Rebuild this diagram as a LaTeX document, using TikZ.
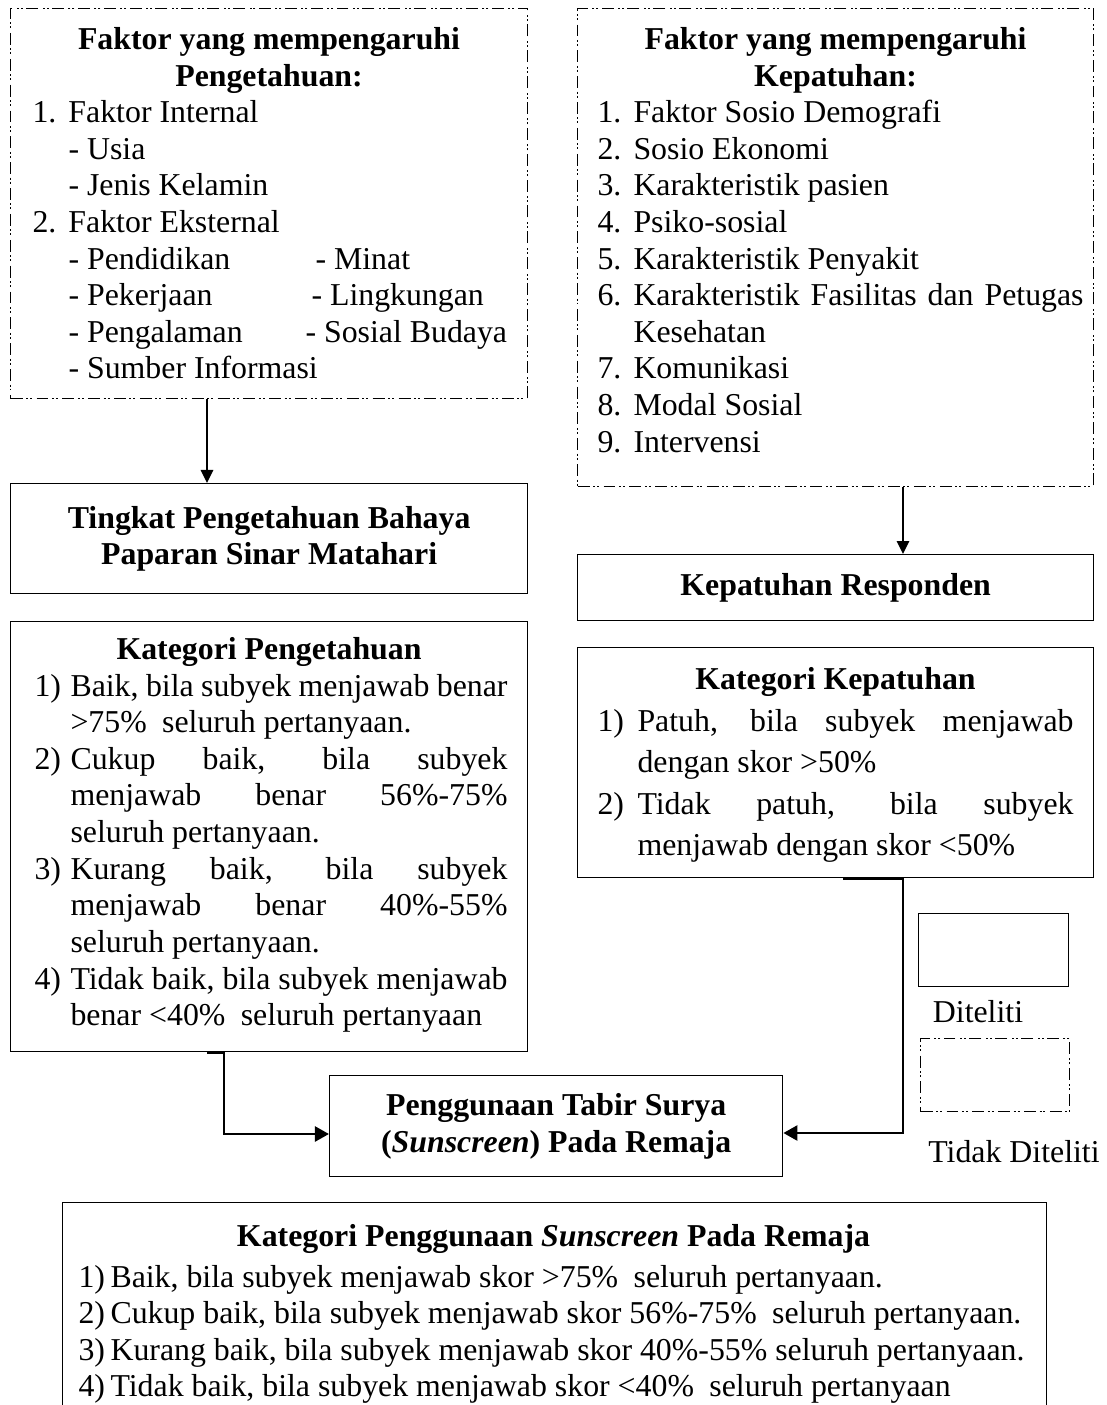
\documentclass[tikz,border=0pt]{standalone}
\usepackage{fontspec}
\setmainfont{Liberation Serif}
\usetikzlibrary{arrows.meta}
\newlength\px
\setlength\px{0.377pt}
\newcommand\nsp{\spaceskip=0pt\xspaceskip=0pt\relax}
\newcommand\lab[2]{\makebox[#1\px][l]{\nsp #2}}
\newcommand\jline[2]{\makebox[#1\px][s]{\spaceskip=0.25em plus 0.5em minus 0.05em\relax #2}}
\newcommand\ind[1]{\hspace*{#1\px}}
\newcommand\wsp{\hspace{2.8pt}}
\newcommand\fs{\fontsize{12pt}{13.8pt}\selectfont}
\setlength\parindent{0pt}
\tikzset{
  box/.style={draw, line width=0.5pt, rectangle, inner sep=0pt, anchor=north west},
  dbox/.style={box, dash pattern=on 4.5pt off 1.3pt on 0.75pt off 0.75pt on 0.75pt off 1.7pt},
  txt/.style={inner sep=0pt, anchor=north west, text width=700\px},
  sarrow/.style={line width=0.6pt, -{Triangle[length=4.9pt,width=4.7pt]}},
  elbow/.style={line width=1.1pt, -{Triangle[length=5.3pt,width=5.6pt]}},
}
\begin{document}
\begin{tikzpicture}[x=0.377pt,y=-0.377pt, every node/.append style={font=\fs}]
\fill[white] (0,0) rectangle (1106,1405);
\useasboundingbox (0,0) rectangle (1106,1405);

% ---------- left column ----------
\node[dbox, minimum width=517\px, minimum height=390\px] (fp) at (10,8) {};
\node[txt] (fpt) at (32,23.4) {\nsp
\makebox[473\px][c]{\nsp\textbf{Faktor yang mempengaruhi}}\strut\\
\makebox[473\px][c]{\textbf{Pengetahuan:}}\\
\lab{36}{1.}Faktor Internal\\
\ind{36}- Usia\\
\ind{36}- Jenis Kelamin\\
\lab{36}{2.}Faktor Eksternal\\
\ind{36}\lab{247}{- Pendidikan}- Minat\\
\ind{36}\lab{243}{- Pekerjaan}- Lingkungan\\
\ind{36}\lab{237}{- Pengalaman}- Sosial Budaya\\
\ind{36}- Sumber Informasi};

\node[box, minimum height=110\px, text width=517\px] (tp) at (10,483)
  {\nsp\centering\textbf{Tingkat Pengetahuan Bahaya}\\\textbf{Paparan Sinar Matahari}\par};

\node[box, minimum width=517\px, minimum height=430\px] (kp) at (10,621) {};
\node[txt] (kpt) at (30,633.4) {\nsp
\makebox[477\px][c]{\nsp\textbf{Kategori Pengetahuan}}\strut\\
\ind{4}\lab{36}{1)}\jline{437}{Baik, bila subyek menjawab benar}\\
\ind{40}>75\%\wsp{} seluruh pertanyaan.\\
\ind{4}\lab{36}{2)}\jline{437}{Cukup baik, bila subyek}\\
\ind{40}\jline{437}{menjawab benar 56\%-75\%}\\
\ind{40}seluruh pertanyaan.\\
\ind{4}\lab{36}{3)}\jline{437}{Kurang baik, bila subyek}\\
\ind{40}\jline{437}{menjawab benar 40\%-55\%}\\
\ind{40}seluruh pertanyaan.\\
\ind{4}\lab{36}{4)}\jline{437}{Tidak baik, bila subyek menjawab}\\
\ind{40}benar <40\%\wsp{} seluruh pertanyaan};

% ---------- right column ----------
\node[dbox, minimum width=516\px, minimum height=478\px] (fk) at (577,8) {};
\node[txt] (fkt) at (597,23.4) {\nsp
\makebox[476\px][c]{\nsp\textbf{Faktor yang mempengaruhi}}\strut\\
\makebox[476\px][c]{\textbf{Kepatuhan:}}\\
\lab{36}{1.}Faktor Sosio Demografi\\
\lab{36}{2.}Sosio Ekonomi\\
\lab{36}{3.}Karakteristik pasien\\
\lab{36}{4.}Psiko-sosial\\
\lab{36}{5.}Karakteristik Penyakit\\
\lab{36}{6.}\jline{450}{Karakteristik Fasilitas dan Petugas}\\
\ind{36}Kesehatan\\
\lab{36}{7.}Komunikasi\\
\lab{36}{8.}Modal Sosial\\
\lab{36}{9.}Intervensi};

\node[box, minimum height=66\px, text width=516\px] (kr) at (577,554)
  {\nsp\centering\textbf{Kepatuhan Responden}\par};

\node[box, minimum width=516\px, minimum height=230\px] (kk) at (577,647) {};
\node[txt, font=\fontsize{12pt}{15.65pt}\selectfont] (kkt) at (597,660) {\nsp
\makebox[476\px][c]{\nsp\textbf{Kategori Kepatuhan}}\strut\\
\lab{40}{1)}\jline{436}{Patuh, bila subyek menjawab}\\
\ind{40}dengan skor >50\%\\
\lab{40}{2)}\jline{436}{Tidak patuh, bila subyek}\\
\ind{40}menjawab dengan skor <50\%};

% ---------- centre ----------
\node[box, minimum height=101\px, text width=453\px] (pg) at (329,1075)
  {\nsp\centering\textbf{Penggunaan Tabir Surya}\\\textbf{(\textit{Sunscreen}) Pada Remaja}\par};

% ---------- legend ----------
\node[box, minimum width=150\px, minimum height=73\px] (ld1) at (918,913) {};
\node[inner sep=0pt] (ld1t) at (978,1012) {Diteliti};
\node[dbox, minimum width=149\px, minimum height=73\px] (ld2) at (920,1038) {};
\node[inner sep=0pt] (ld2t) at (1014,1152) {\nsp Tidak Diteliti};

% ---------- bottom box ----------
\node[box, minimum width=984\px, minimum height=240\px] (kg) at (62,1202) {};
\node[txt, text width=1000\px] (kgt) at (78,1220.4) {\nsp
\makebox[950\px][c]{\nsp\textbf{Kategori Penggunaan \textit{Sunscreen} Pada Remaja}}\strut\\[1.5pt]
\lab{32}{1)}Baik, bila subyek menjawab skor >75\%\wsp{} seluruh pertanyaan.\\
\lab{32}{2)}Cukup baik, bila subyek menjawab skor 56\%-75\%\wsp{} seluruh pertanyaan.\\
\lab{32}{3)}Kurang baik, bila subyek menjawab skor 40\%-55\% seluruh pertanyaan.\\
\lab{32}{4)}Tidak baik, bila subyek menjawab skor <40\%\wsp{} seluruh pertanyaan};

% ---------- connectors ----------
\coordinate (xa) at (207,0);
\coordinate (xb) at (903,0);
\coordinate (l2) at (224,1134);
\coordinate (r0) at (843,0);
\coordinate (r2) at (903,1133);
\draw[sarrow] (fp.south -| xa) -- (tp.north -| xa);
\draw[sarrow] (fk.south -| xb) -- (kr.north -| xb);
\draw[elbow] (kp.south -| xa) -- (kp.south -| l2) -- (l2) -- (pg.west |- l2);
\draw[elbow] (kk.south -| r0) -- (kk.south -| r2) -- (r2) -- (pg.east |- r2);
\end{tikzpicture}
\end{document}
